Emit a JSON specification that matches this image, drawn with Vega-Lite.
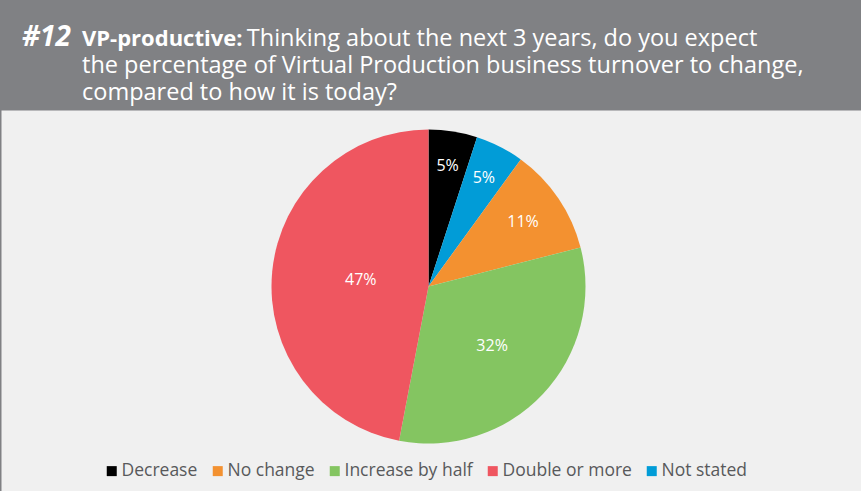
{
  "$schema": "https://vega.github.io/schema/vega-lite/v6.json",
  "padding": {"top": 24, "left": 0, "right": 0, "bottom": 0},
  "background": "#808184",
  "spacing": 0,
  "title": {
    "text": "#12",
    "anchor": "start",
    "frame": "group",
    "dx": 21,
    "offset": -26,
    "font": "Open Sans",
    "fontSize": 28,
    "fontStyle": "italic",
    "fontWeight": "bold",
    "color": "white"
  },
  "resolve": {"legend": {"color": "independent"}},
  "vconcat": [
    {
      "width": 861,
      "height": 381,
      "view": {"fill": "#f0f0f0", "stroke": "transparent"},
      "title": {
        "text": "VP-productive:",
        "subtitle": [
          "\u200b\u00a0\u00a0\u00a0\u00a0\u00a0\u00a0\u00a0\u00a0\u00a0\u00a0\u00a0\u00a0\u00a0\u00a0\u00a0\u00a0\u00a0\u00a0\u00a0\u00a0\u00a0\u00a0\u00a0\u00a0\u00a0\u00a0\u00a0Thinking about the next 3 years, do you expect",
          "the percentage of Virtual Production business turnover to change,",
          "compared to how it is today?"
        ],
        "anchor": "start",
        "frame": "group",
        "dx": 81,
        "offset": 4,
        "font": "Open Sans",
        "fontSize": 22,
        "fontWeight": "bold",
        "color": "white",
        "subtitleFont": "Open Sans",
        "subtitleFontSize": 23.5,
        "subtitleColor": "white",
        "subtitleLineHeight": 27,
        "subtitlePadding": -23.8
      },
      "data": {
        "values": [
          {"category": "Decrease", "share": 0.05, "order": 1},
          {"category": "Not stated", "share": 0.05, "order": 2},
          {"category": "No change", "share": 0.11, "order": 3},
          {"category": "Increase by half", "share": 0.32, "order": 4},
          {"category": "Double or more", "share": 0.47, "order": 5}
        ]
      },
      "encoding": {
        "theta": {"field": "share", "type": "quantitative", "stack": true},
        "order": {"field": "order", "type": "quantitative"}
      },
      "layer": [
        {
          "mark": {"type": "arc", "outerRadius": 157, "xOffset": -3, "yOffset": -14},
          "encoding": {
            "color": {
              "field": "category",
              "type": "nominal",
              "scale": {
                "domain": ["Decrease", "No change", "Increase by half", "Double or more", "Not stated"],
                "range": ["#000000", "#f39130", "#84c561", "#ef5660", "#019cd7"]
              },
              "legend": {
                "orient": "none",
                "legendX": 102,
                "legendY": 352,
                "direction": "horizontal",
                "title": null,
                "symbolType": "square",
                "symbolSize": 100,
                "symbolStrokeWidth": 0,
                "symbolOpacity": 1,
                "labelFont": "Open Sans",
                "labelFontSize": 17.5,
                "labelColor": "#58595b",
                "labelOffset": 1,
                "columnPadding": 11,
                "labelLimit": 300
              }
            }
          }
        },
        {
          "mark": {"type": "text", "font": "Open Sans", "fontSize": 16, "color": "white", "xOffset": -3, "yOffset": -14},
          "encoding": {
            "text": {"field": "share", "type": "quantitative", "format": ".0%"},
            "radius": {
              "field": "share",
              "type": "quantitative",
              "scale": {"type": "linear", "domain": [0.05, 0.47], "range": [122, 68], "zero": false}
            }
          }
        }
      ]
    }
  ],
  "config": {
    "view": {"stroke": "transparent"}
  }
}
